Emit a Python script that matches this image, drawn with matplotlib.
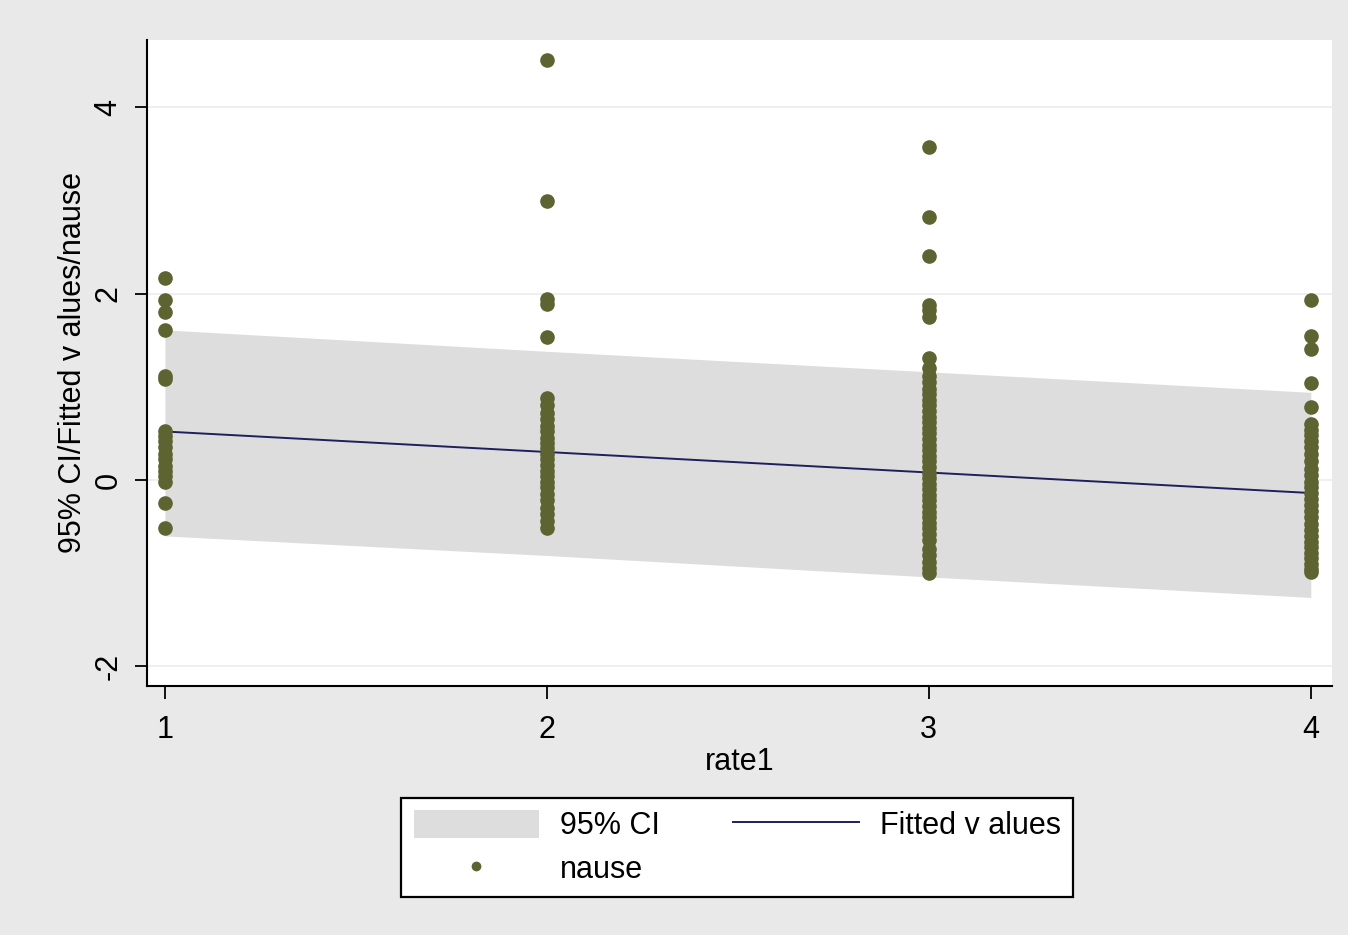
import numpy as np
import matplotlib.pyplot as plt
from matplotlib.patches import Patch
from matplotlib.lines import Line2D

plt.rcParams['font.family'] = ['Liberation Sans', 'DejaVu Sans']
plt.rcParams['axes.unicode_minus'] = False

# nause values observed at each rate1 level
nause_r1 = [2.17, 1.93, 1.80, 1.61, 1.12, 1.08, 0.52, 0.47, 0.42, 0.35, 0.28, 0.22,
            0.15, 0.10, 0.04, -0.02, -0.25, -0.52]
nause_r2 = [4.50, 2.99, 1.94, 1.89, 1.53, 0.88, 0.80, 0.72, 0.65, 0.58, 0.52, 0.45,
            0.40, 0.34, 0.28, 0.22, 0.16, 0.10, 0.04, -0.02, -0.08, -0.15, -0.22,
            -0.30, -0.37, -0.44, -0.51]
nause_r3 = [3.57, 2.82, 2.40, 1.88, 1.82, 1.75, 1.31, 1.20, 1.12, 1.05, 0.98, 0.92,
            0.86, 0.80, 0.74, 0.68, 0.62, 0.56, 0.50, 0.44, 0.38, 0.32, 0.26, 0.20,
            0.14, 0.08, 0.02, -0.04, -0.10, -0.16, -0.22, -0.28, -0.34, -0.40, -0.46,
            -0.52, -0.58, -0.64, -0.74, -0.80, -0.88, -0.94, -1.00]
nause_r4 = [1.93, 1.54, 1.40, 1.04, 0.78, 0.60, 0.54, 0.48, 0.42, 0.35, 0.28, 0.20,
            0.12, 0.05, -0.02, -0.08, -0.14, -0.20, -0.27, -0.33, -0.40, -0.47, -0.54,
            -0.60, -0.66, -0.72, -0.78, -0.84, -0.90, -0.96, -0.99]

# linear fit and 95% CI
rate_fit = [1, 2, 3, 4]
fitted = [0.52, 0.30, 0.08, -0.14]
ci_upper = [1.61, 1.38, 1.16, 0.94]
ci_lower = [-0.60, -0.81, -1.04, -1.26]

x_ticks = [1, 2, 3, 4]
y_ticks = [-2, 0, 2, 4]

pt_color = '#5e6431'
line_color = '#1f1f5c'
band_color = '#dddddd'
bg = '#e9e9e9'
fs = 22

fig = plt.figure(figsize=(13.48, 9.35), dpi=100, facecolor=bg)
ax = fig.add_axes([0.109, 0.2663, 0.879, 0.691])
ax.set_facecolor('white')

groups = [nause_r1, nause_r2, nause_r3, nause_r4]
xs = np.concatenate([[r] * len(g) for r, g in zip(x_ticks, groups)])
ys = np.concatenate(groups)

ax.fill_between(rate_fit, ci_lower, ci_upper, color=band_color, lw=0, zorder=1)
ax.plot(rate_fit, fitted, color=line_color, lw=1.4, zorder=2)
ax.plot(xs, ys, 'o', color=pt_color, ms=9.5, mec=pt_color, zorder=3)

ax.set_xlim(0.953, 4.055)
ax.set_ylim(-2.21, 4.72)
ax.set_xticks(x_ticks)
ax.set_yticks(y_ticks)
ax.grid(axis='y', color='#ececec', lw=1.2, zorder=0)
ax.set_axisbelow(True)

for s in ['top', 'right']:
    ax.spines[s].set_visible(False)
for s in ['left', 'bottom']:
    ax.spines[s].set_linewidth(1.5)
    ax.spines[s].set_color('black')

ax.tick_params(axis='both', direction='out', length=9, width=1.3, labelsize=fs)
ax.tick_params(axis='x', pad=12)
ax.tick_params(axis='y', pad=8)
for lbl in ax.get_yticklabels():
    lbl.set_rotation(90)
    lbl.set_va('center')

ax.set_xlabel('rate1', fontsize=fs, labelpad=1)
ax.set_ylabel('95% CI/Fitted v alues/nause', fontsize=fs, labelpad=4)

handles = [Patch(facecolor=band_color, edgecolor='none'),
           Line2D([], [], ls='none', marker='o', color=pt_color, ms=6),
           Line2D([], [], color=line_color, lw=1.4)]
labels = ['95% CI', 'nause', 'Fitted v alues']
leg = fig.legend(handles, labels, ncol=2, loc='center', bbox_to_anchor=(0.547, 0.0936),
                 fontsize=fs, frameon=True, fancybox=False, edgecolor='black',
                 framealpha=1, facecolor='white',
                 handlelength=4.1, handleheight=1.0, columnspacing=2.4,
                 handletextpad=0.7, borderpad=0.4, labelspacing=0.4)
leg.get_frame().set_linewidth(1.6)

fig.savefig('out.png', dpi=100, facecolor=bg)
